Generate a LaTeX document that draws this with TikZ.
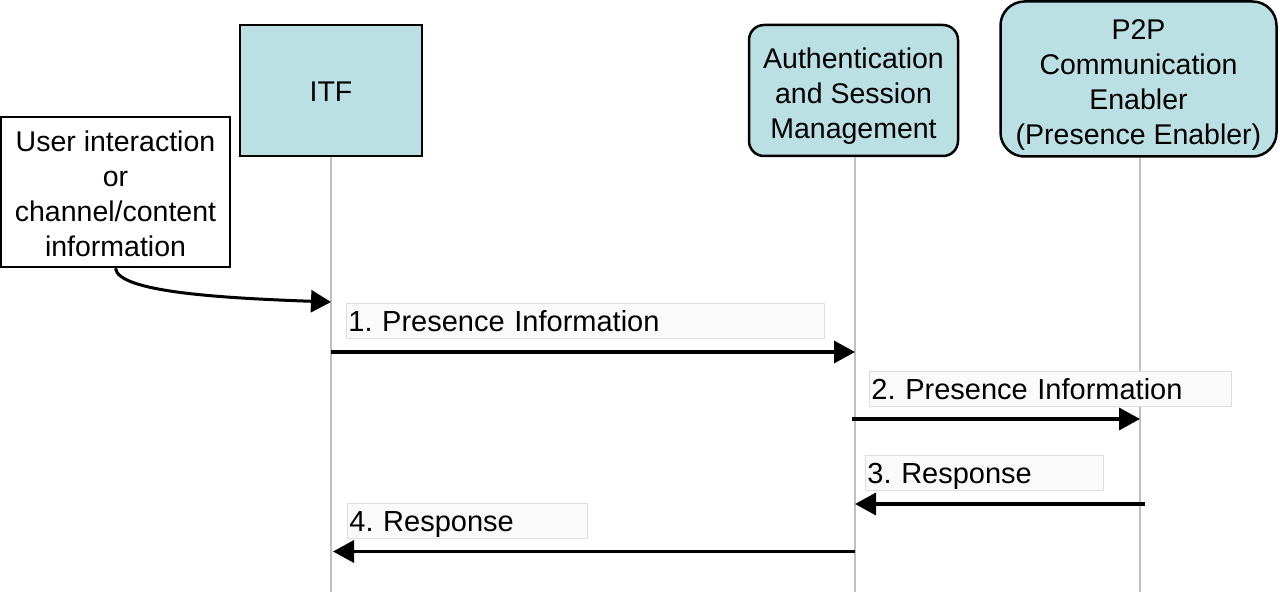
\documentclass[tikz,border=0pt]{standalone}
\usepackage{fontspec}
\setmainfont{Liberation Sans}
\usetikzlibrary{arrows.meta}
\definecolor{boxfill}{RGB}{187,224,227}
\definecolor{lifegray}{RGB}{192,192,192}
\definecolor{lblfill}{RGB}{250,250,250}
\definecolor{lbldraw}{RGB}{222,222,222}
\frenchspacing
\newcommand{\toppad}[1]{\rule{0pt}{#1}}
\begin{document}
\begin{tikzpicture}[x=1pt,y=-1pt,
  every node/.style={font=\fontsize{28.5}{35}\selectfont},
  actor/.style={draw=black, line width=2.5pt, fill=boxfill, align=center, inner sep=0pt},
  srcbox/.style={draw=black, line width=2.5pt, fill=white, align=center, inner sep=0pt},
  life/.style={draw=lifegray, line width=2pt},
  msg/.style={draw=black, line width=3.5pt, -{Triangle[length=21pt,width=22pt]}},
  lbl/.style={draw=lbldraw, line width=0.8pt, fill=lblfill, anchor=north west, align=left,
              inner xsep=2pt, inner ysep=0pt, minimum height=35pt,
              text height=21pt, text depth=0pt,
              font=\fontsize{29}{35}\selectfont}]
\useasboundingbox (0,0) rectangle (1280,596);

% actors
\node[actor, minimum width=182pt, minimum height=131pt] (itf) at (331,90.5) {\toppad{23pt}ITF};
\node[actor, rounded corners=15pt, minimum width=209pt, minimum height=131pt] (asm) at (853.5,90.5)
  {\toppad{31pt}Authentication\\and Session\\Management};
\node[actor, rounded corners=24pt, minimum width=276pt, minimum height=155pt] (p2p) at (1138.5,79)
  {\toppad{31pt}P2P\\Communication\\Enabler\\(Presence Enabler)};
\node[srcbox, minimum width=229pt, minimum height=150pt] (user) at (115.5,192)
  {\toppad{25pt}User interaction\\or\\channel/content\\information};

% lifeline ends
\coordinate (itfend) at (331,592);
\coordinate (asmend) at (855,592);
\coordinate (p2pend) at (1140,592);
\draw[life] (itf.south) -- (itfend);
\draw[life] (asm.south -| asmend) -- (asmend);
\draw[life] (p2p.south -| p2pend) -- (p2pend);

% message anchor points
\coordinate (u0) at (331,302);
\coordinate (m1s) at (331,352);  \coordinate (m1e) at (855,352);
\coordinate (m2s) at (852,419);  \coordinate (m2e) at (1140,419);
\coordinate (m3s) at (1145,504); \coordinate (m3e) at (855,504);
\coordinate (m4s) at (855,551.5);  \coordinate (m4e) at (333,551.5);

% input curve
\draw[draw=black, line width=3pt, -{Triangle[length=20pt,width=22pt]}]
  (user.south) .. controls (118,292) and (220,298) .. (u0);

% labels
\node[lbl, text width=474pt] (l1) at (346,303) {1. Presence Information};
\node[lbl, text width=358pt] (l2) at (869,371) {2. Presence Information};
\node[lbl, text width=234pt] (l3) at (865,455) {3. Response};
\node[lbl, text width=236pt] (l4) at (347,503) {4. Response};

% messages
\draw[msg] (m1s) -- (m1e);
\draw[msg] (m2s) -- (m2e);
\draw[msg] (m3s) -- (m3e);
\draw[msg] (m4s) -- (m4e);
\end{tikzpicture}
\end{document}
